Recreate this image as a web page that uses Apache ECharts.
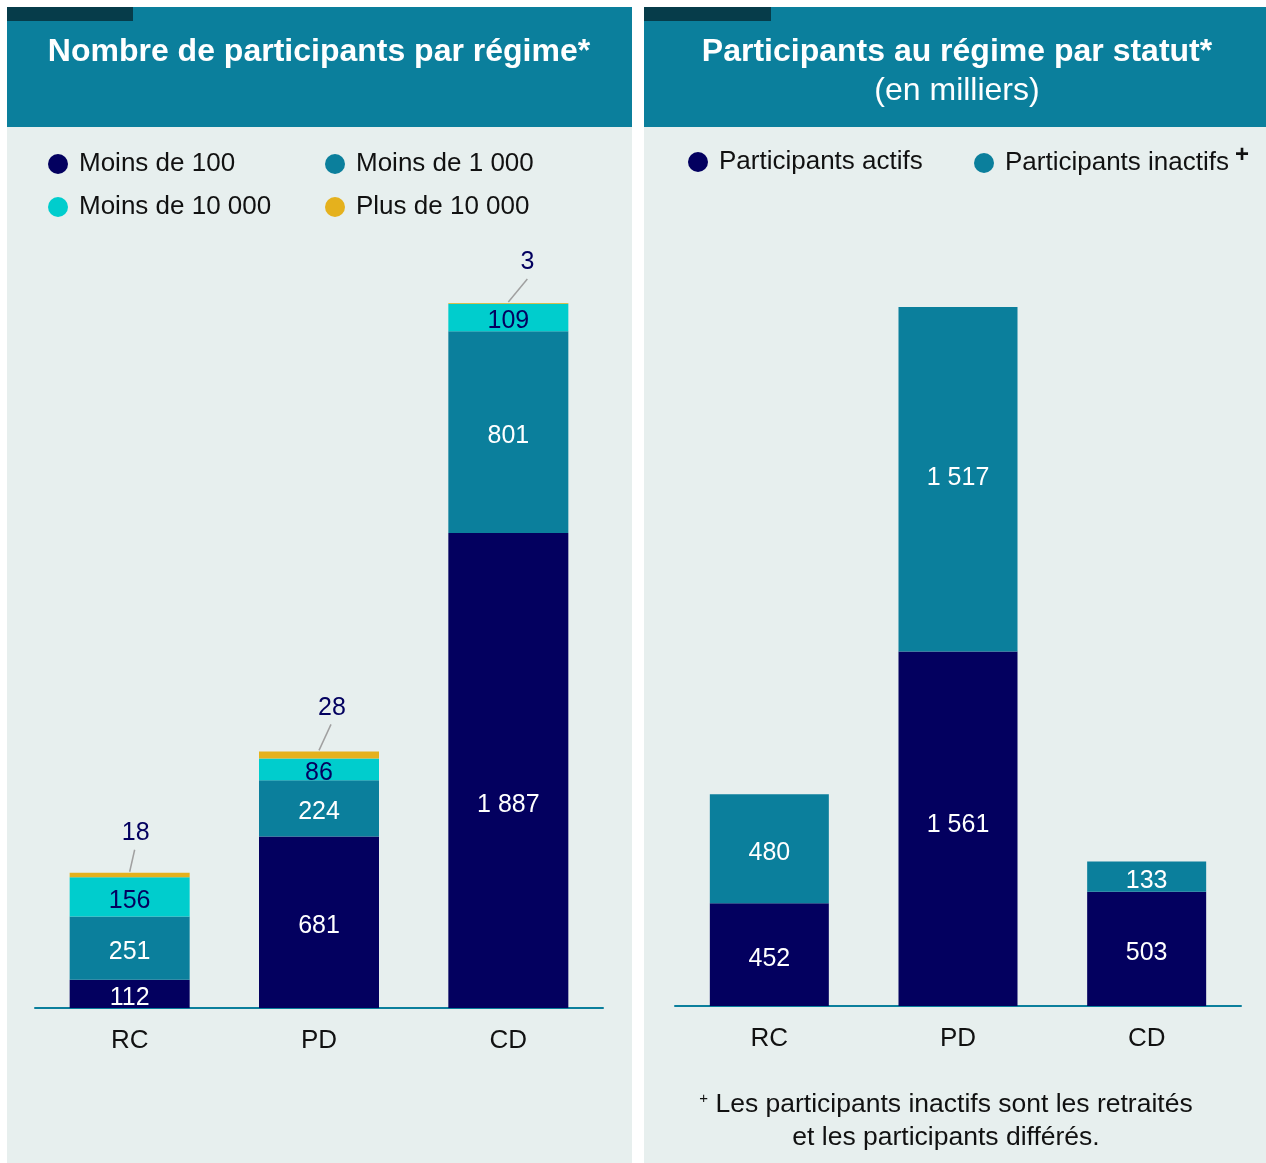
<!DOCTYPE html>
<html>
<head>
<meta charset="utf-8">
<script src="https://cdn.jsdelivr.net/npm/echarts@6/dist/echarts.min.js"></script>
<style>
  html, body { margin: 0; padding: 0; background: #ffffff; }
  #chart { width: 1266px; height: 1163px; }
</style>
</head>
<body>
<div id="chart"></div>
<script>
// donnees
const categories = ['RC', 'PD', 'CD'];

const moins100 = [112, 681, 1887];
const moins1000 = [251, 224, 801];
const moins10000 = [156, 86, 109];
const plus10000 = [18, 28, 3];

const actifs = [452, 1561, 503];
const inactifs = [480, 1517, 133];

const maxRegime = 2800;
const maxStatut = 3078;

const navy = '#03005f';
const teal = '#0b7f9c';
const cyan = '#00cdcd';
const gold = '#e5b11d';
const bg = '#e7efee';
const font = "'Liberation Sans', Arial, sans-serif";

// decalage des etiquettes "Plus de 10 000" et de leurs traits de rappel
const plusOffsets = [[6, -22], [13, -26], [19, -23]];
const lineOffsets = [[5, -23], [12, -27], [19, -24]];

const fmt = v => String(v).replace(/\B(?=(\d{3})+(?!\d))/g, ' ');

const totals = categories.map((c, i) => moins100[i] + moins1000[i] + moins10000[i] + plus10000[i]);

const chart = echarts.init(document.getElementById('chart'));

function barLabel(color) {
    return {
        show: true,
        position: 'inside',
        offset: [0, 4],
        color: color,
        fontSize: 25,
        fontFamily: font,
        formatter: p => fmt(p.value)
    };
}

// quelques etiquettes ne sont pas centrees dans l'original
function withOffset(values, idx, off) {
    return values.map((v, i) => i === idx ? { value: v, label: { offset: off } } : v);
}

function legendAt(name, left, top) {
    return {
        data: [name],
        left: left,
        top: top,
        padding: 0,
        icon: 'circle',
        itemWidth: 20,
        itemHeight: 20,
        selectedMode: false,
        textStyle: {
            color: '#111',
            fontSize: 26,
            fontFamily: font,
            padding: [0, 0, 0, 6],
            rich: {
                s: { fontSize: 24, fontWeight: 'bold', color: '#111', fontFamily: font, verticalAlign: 'top', padding: [0, 0, 16, 6] }
            }
        },
        formatter: n => n === 'Participants inactifs' ? n + '{s|+}' : n
    };
}

const axisCommon = {
    type: 'category',
    data: categories,
    axisTick: { show: false },
    axisLine: { lineStyle: { color: teal, width: 2 } },
    axisLabel: { color: '#111', fontSize: 26, fontFamily: font, margin: 20 }
};

const actifsData = withOffset(actifs, 1, [0, -4]);
const inactifsData = withOffset(inactifs, 1, [0, -1]);

const option = {
    backgroundColor: '#ffffff',
    animation: false,
    graphic: [
        { type: 'rect', z: -10, shape: { x: 7, y: 127, width: 625, height: 1036 }, style: { fill: bg } },
        { type: 'rect', z: -10, shape: { x: 644, y: 127, width: 622, height: 1036 }, style: { fill: bg } },
        { type: 'rect', z: -10, shape: { x: 7, y: 7, width: 625, height: 120 }, style: { fill: teal } },
        { type: 'rect', z: -10, shape: { x: 644, y: 7, width: 622, height: 120 }, style: { fill: teal } },
        { type: 'rect', z: -9, shape: { x: 7, y: 7, width: 126, height: 14 }, style: { fill: '#063c4a' } },
        { type: 'rect', z: -9, shape: { x: 644, y: 7, width: 127, height: 14 }, style: { fill: '#063c4a' } },
        {
            type: 'text', x: 319, y: 52,
            style: { text: 'Nombre de participants par régime*', fill: '#fff', font: 'bold 32px ' + font, textAlign: 'center', textVerticalAlign: 'middle' }
        },
        {
            type: 'text', x: 957, y: 52,
            style: { text: 'Participants au régime par statut*', fill: '#fff', font: 'bold 32px ' + font, textAlign: 'center', textVerticalAlign: 'middle' }
        },
        {
            type: 'text', x: 957, y: 91,
            style: { text: '(en milliers)', fill: '#fff', font: '32px ' + font, textAlign: 'center', textVerticalAlign: 'middle' }
        },
        {
            type: 'text', x: 946, y: 1105,
            style: {
                text: '{s|+} Les participants inactifs sont les retraités',
                fill: '#111', font: '26.5px ' + font, textAlign: 'center', textVerticalAlign: 'middle',
                rich: { s: { fontSize: 15, fontFamily: font, fill: '#111', verticalAlign: 'top', padding: [0, 0, 10, 0] } }
            }
        },
        {
            type: 'text', x: 946, y: 1138,
            style: { text: 'et les participants différés.', fill: '#111', font: '26.5px ' + font, textAlign: 'center', textVerticalAlign: 'middle' }
        }
    ],
    legend: [
        legendAt('Moins de 100', 48, 151),
        legendAt('Moins de 1 000', 325, 151),
        legendAt('Moins de 10 000', 48, 194),
        legendAt('Plus de 10 000', 325, 194),
        legendAt('Participants actifs', 688, 149),
        legendAt('Participants inactifs', 974, 143)
    ],
    grid: [
        { left: 35, width: 568, top: 303, bottom: 155 },
        { left: 675, width: 566, top: 307, bottom: 157 }
    ],
    xAxis: [
        Object.assign({ gridIndex: 0 }, axisCommon),
        Object.assign({ gridIndex: 1 }, axisCommon)
    ],
    yAxis: [
        { gridIndex: 0, type: 'value', min: 0, max: maxRegime, show: false },
        { gridIndex: 1, type: 'value', min: 0, max: maxStatut, show: false }
    ],
    series: [
        {
            name: 'Moins de 100', type: 'bar', stack: 'regime', xAxisIndex: 0, yAxisIndex: 0,
            barWidth: 120, data: withOffset(moins100, 2, [0, 35]), itemStyle: { color: navy }, label: barLabel('#fff')
        },
        {
            name: 'Moins de 1 000', type: 'bar', stack: 'regime', xAxisIndex: 0, yAxisIndex: 0,
            barWidth: 120, data: moins1000, itemStyle: { color: teal }, label: barLabel('#fff')
        },
        {
            name: 'Moins de 10 000', type: 'bar', stack: 'regime', xAxisIndex: 0, yAxisIndex: 0,
            barWidth: 120, data: moins10000, itemStyle: { color: cyan }, label: barLabel(navy)
        },
        {
            name: 'Plus de 10 000', type: 'bar', stack: 'regime', xAxisIndex: 0, yAxisIndex: 0,
            barWidth: 120, barMinHeight: 2, data: plus10000, itemStyle: { color: gold },
            label: Object.assign(barLabel(navy), { position: 'top', distance: 5, offset: [0, 0] }),
            labelLayout: p => ({ dx: plusOffsets[p.dataIndex][0], dy: plusOffsets[p.dataIndex][1] })
        },
        {
            // traits de rappel vers les etiquettes "Plus de 10 000"
            name: 'rappel', type: 'custom', xAxisIndex: 0, yAxisIndex: 0, silent: true, z: 3,
            data: totals.map((t, i) => [i, t]),
            renderItem: (params, api) => {
                const top = api.coord([api.value(0), api.value(1)]);
                const off = lineOffsets[params.dataIndex];
                return {
                    type: 'line',
                    shape: { x1: top[0], y1: top[1] - 1, x2: top[0] + off[0], y2: top[1] + off[1] },
                    style: { stroke: '#a0a0a0', lineWidth: 1.5 }
                };
            }
        },
        {
            name: 'Participants actifs', type: 'bar', stack: 'statut', xAxisIndex: 1, yAxisIndex: 1,
            barWidth: 119, data: actifsData, itemStyle: { color: navy }, label: barLabel('#fff')
        },
        {
            name: 'Participants inactifs', type: 'bar', stack: 'statut', xAxisIndex: 1, yAxisIndex: 1,
            barWidth: 119, data: inactifsData, itemStyle: { color: teal }, label: barLabel('#fff')
        }
    ]
};

chart.setOption(option);
</script>
</body>
</html>
